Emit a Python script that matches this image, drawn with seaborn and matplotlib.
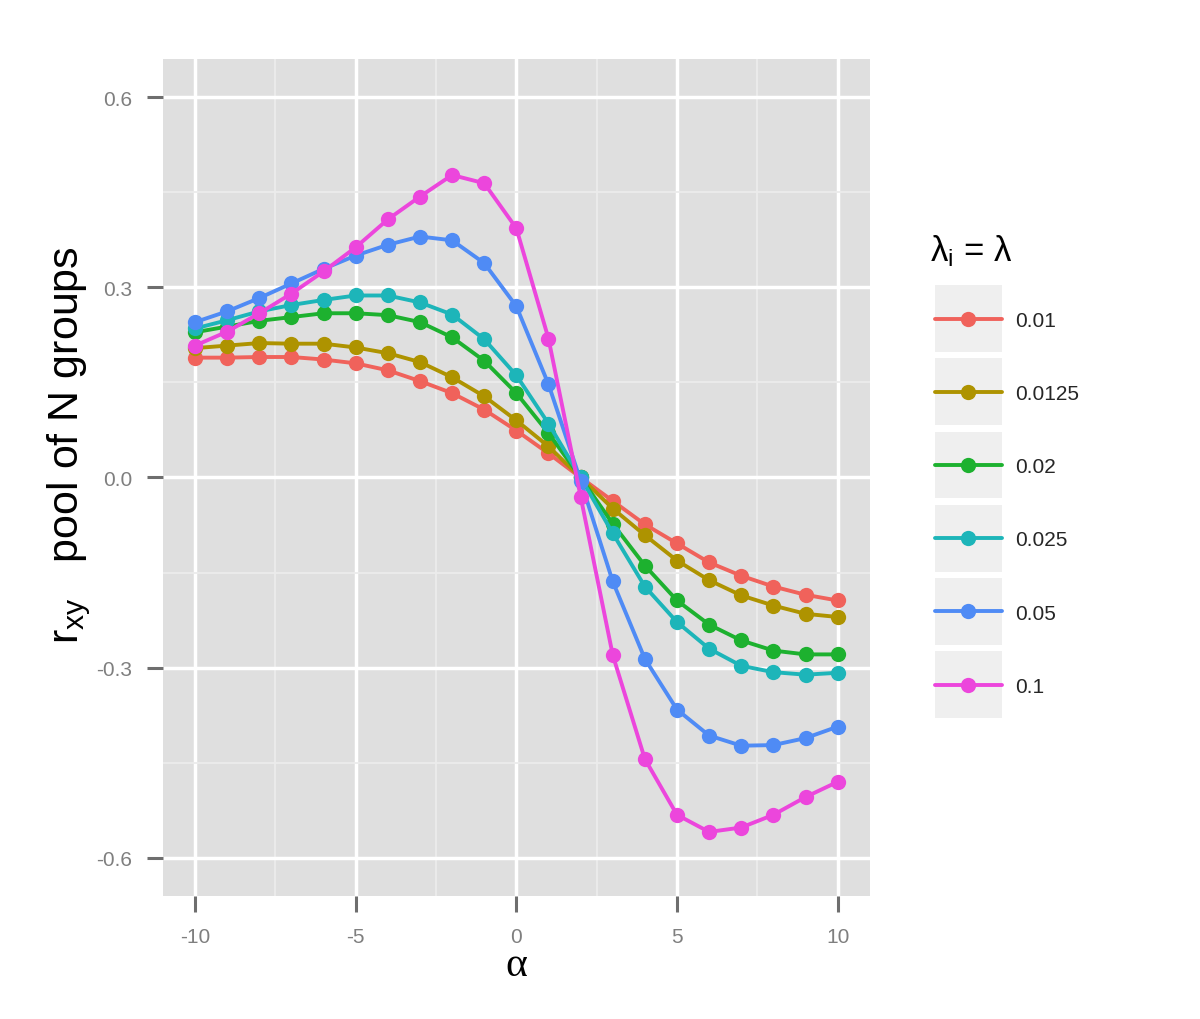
import numpy as np
import pandas as pd
import matplotlib
matplotlib.use('Agg')
import matplotlib.pyplot as plt
import seaborn as sns
from matplotlib.lines import Line2D
from matplotlib.patches import Rectangle
from matplotlib.legend_handler import HandlerLine2D
from matplotlib.ticker import MultipleLocator

# ---- data ----
alpha = list(range(-10, 11))
lam_labels = ['0.01', '0.0125', '0.02', '0.025', '0.05', '0.1']

r_001 = [0.189, 0.189, 0.190, 0.190, 0.186, 0.180, 0.169, 0.152, 0.133, 0.107, 0.074,
         0.038, 0.000, -0.037, -0.074, -0.104, -0.134, -0.155, -0.172, -0.185, -0.194]
r_00125 = [0.204, 0.208, 0.212, 0.211, 0.211, 0.205, 0.196, 0.182, 0.158, 0.128, 0.090,
           0.049, 0.000, -0.049, -0.091, -0.131, -0.162, -0.186, -0.202, -0.215, -0.220]
r_002 = [0.229, 0.238, 0.247, 0.253, 0.259, 0.259, 0.256, 0.245, 0.221, 0.184, 0.133,
         0.070, 0.000, -0.073, -0.139, -0.194, -0.232, -0.257, -0.273, -0.279, -0.279]
r_0025 = [0.235, 0.248, 0.262, 0.272, 0.280, 0.287, 0.287, 0.276, 0.257, 0.218, 0.161,
          0.085, 0.000, -0.088, -0.172, -0.228, -0.270, -0.297, -0.307, -0.311, -0.308]
r_005 = [0.245, 0.262, 0.283, 0.306, 0.329, 0.350, 0.367, 0.380, 0.374, 0.338, 0.270,
         0.147, -0.005, -0.164, -0.286, -0.366, -0.407, -0.423, -0.422, -0.411, -0.393]
r_01 = [0.208, 0.230, 0.259, 0.290, 0.325, 0.363, 0.407, 0.443, 0.477, 0.464, 0.393,
        0.219, -0.030, -0.280, -0.444, -0.532, -0.559, -0.552, -0.532, -0.504, -0.480]

series = [r_001, r_00125, r_002, r_0025, r_005, r_01]
df = pd.DataFrame({
    'alpha': alpha * len(lam_labels),
    'r': np.concatenate(series),
    'lam': np.repeat(lam_labels, len(alpha)),
})

# ggplot-like hue palette (a touch deeper, as in the reference)
palette = ['#F0625B', '#AE9300', '#1DB12F', '#1DB5B9', '#4F8BF5', '#EC46DC']

sns.set_style('darkgrid')
plt.rcParams['font.family'] = ['Liberation Sans', 'DejaVu Sans']
plt.rcParams['mathtext.fontset'] = 'custom'
plt.rcParams['mathtext.rm'] = 'Liberation Sans'
plt.rcParams['mathtext.it'] = 'Liberation Sans:italic'

fig = plt.figure(figsize=(12, 10.2), dpi=100)
fig.patch.set_facecolor('white')
ax = fig.add_axes([0.1358, 0.1206, 0.589, 0.8206])
ax.set_facecolor('#DFDFDF')

sns.lineplot(data=df, x='alpha', y='r', hue='lam', hue_order=lam_labels,
             palette=palette, marker='o', markersize=11, markeredgewidth=0,
             linewidth=2.8, ax=ax, legend=True)

ax.set_xlim(-11, 11)
ax.set_ylim(-0.66, 0.66)
ax.xaxis.set_minor_locator(MultipleLocator(2.5))
ax.yaxis.set_minor_locator(MultipleLocator(0.15))
ax.set_yticks([-0.6, -0.3, 0.0, 0.3, 0.6])
ax.set_yticklabels(['-0.6', '-0.3', '0.0', '0.3', '0.6'])
ax.set_xticks([-10, -5, 0, 5, 10])
ax.set_xticklabels(['-10', '-5', '0', '5', '10'])

ax.set_axisbelow(True)
ax.grid(which='major', color='white', linewidth=2.5)
ax.grid(which='minor', color='#ECECEC', linewidth=1.3)
for s in ax.spines.values():
    s.set_visible(False)

ax.tick_params(which='major', bottom=True, left=True, length=11.5, width=2.2,
               color='#6E6E6E', labelcolor='#7F7F7F', labelsize=15)
ax.tick_params(axis='x', pad=10.5)
ax.tick_params(axis='y', pad=10.5)
ax.tick_params(which='minor', length=0)

ax.set_xlabel('α', family='Liberation Serif', fontsize=30, labelpad=0, color='black')
ax.set_ylabel(r'$\mathregular{r_{xy}}$   pool of N groups', fontsize=31, color='black')
ax.yaxis.set_label_coords(-0.099, 0.54)


# legend keys with grey square backgrounds (ggplot style)
class KeyBoxHandler(HandlerLine2D):
    def create_artists(self, legend, orig_handle, xdescent, ydescent,
                       width, height, fontsize, trans):
        artists = super().create_artists(legend, orig_handle, xdescent, ydescent,
                                         width, height, fontsize, trans)
        inset = 0.08 * width
        for a in artists:
            if len(a.get_xdata()) == 2:
                a.set_xdata([-xdescent + inset, -xdescent + width - inset])
        yc = (height - ydescent) / 2
        box = Rectangle((-xdescent, yc - width / 2), width, width,
                        facecolor='#EFEFEF', edgecolor='none', transform=trans)
        return [box] + artists


handles, labels = ax.get_legend_handles_labels()
ax.get_legend().remove()
leg = fig.legend(handles, labels, loc='upper left',
                 bbox_to_anchor=(935 / 1200, 1 - 312 / 1020),
                 frameon=False, fontsize=15, handlelength=3.21,
                 handletextpad=0.62, labelspacing=2.60, borderpad=0,
                 borderaxespad=0, handler_map={Line2D: KeyBoxHandler()})

fig.text(930 / 1200, 1 - 261 / 1020, r'$\mathregular{\lambda_i}$ = λ',
         fontsize=25, ha='left', va='baseline', color='black')

fig.savefig('out.png', dpi=100, facecolor='white')
